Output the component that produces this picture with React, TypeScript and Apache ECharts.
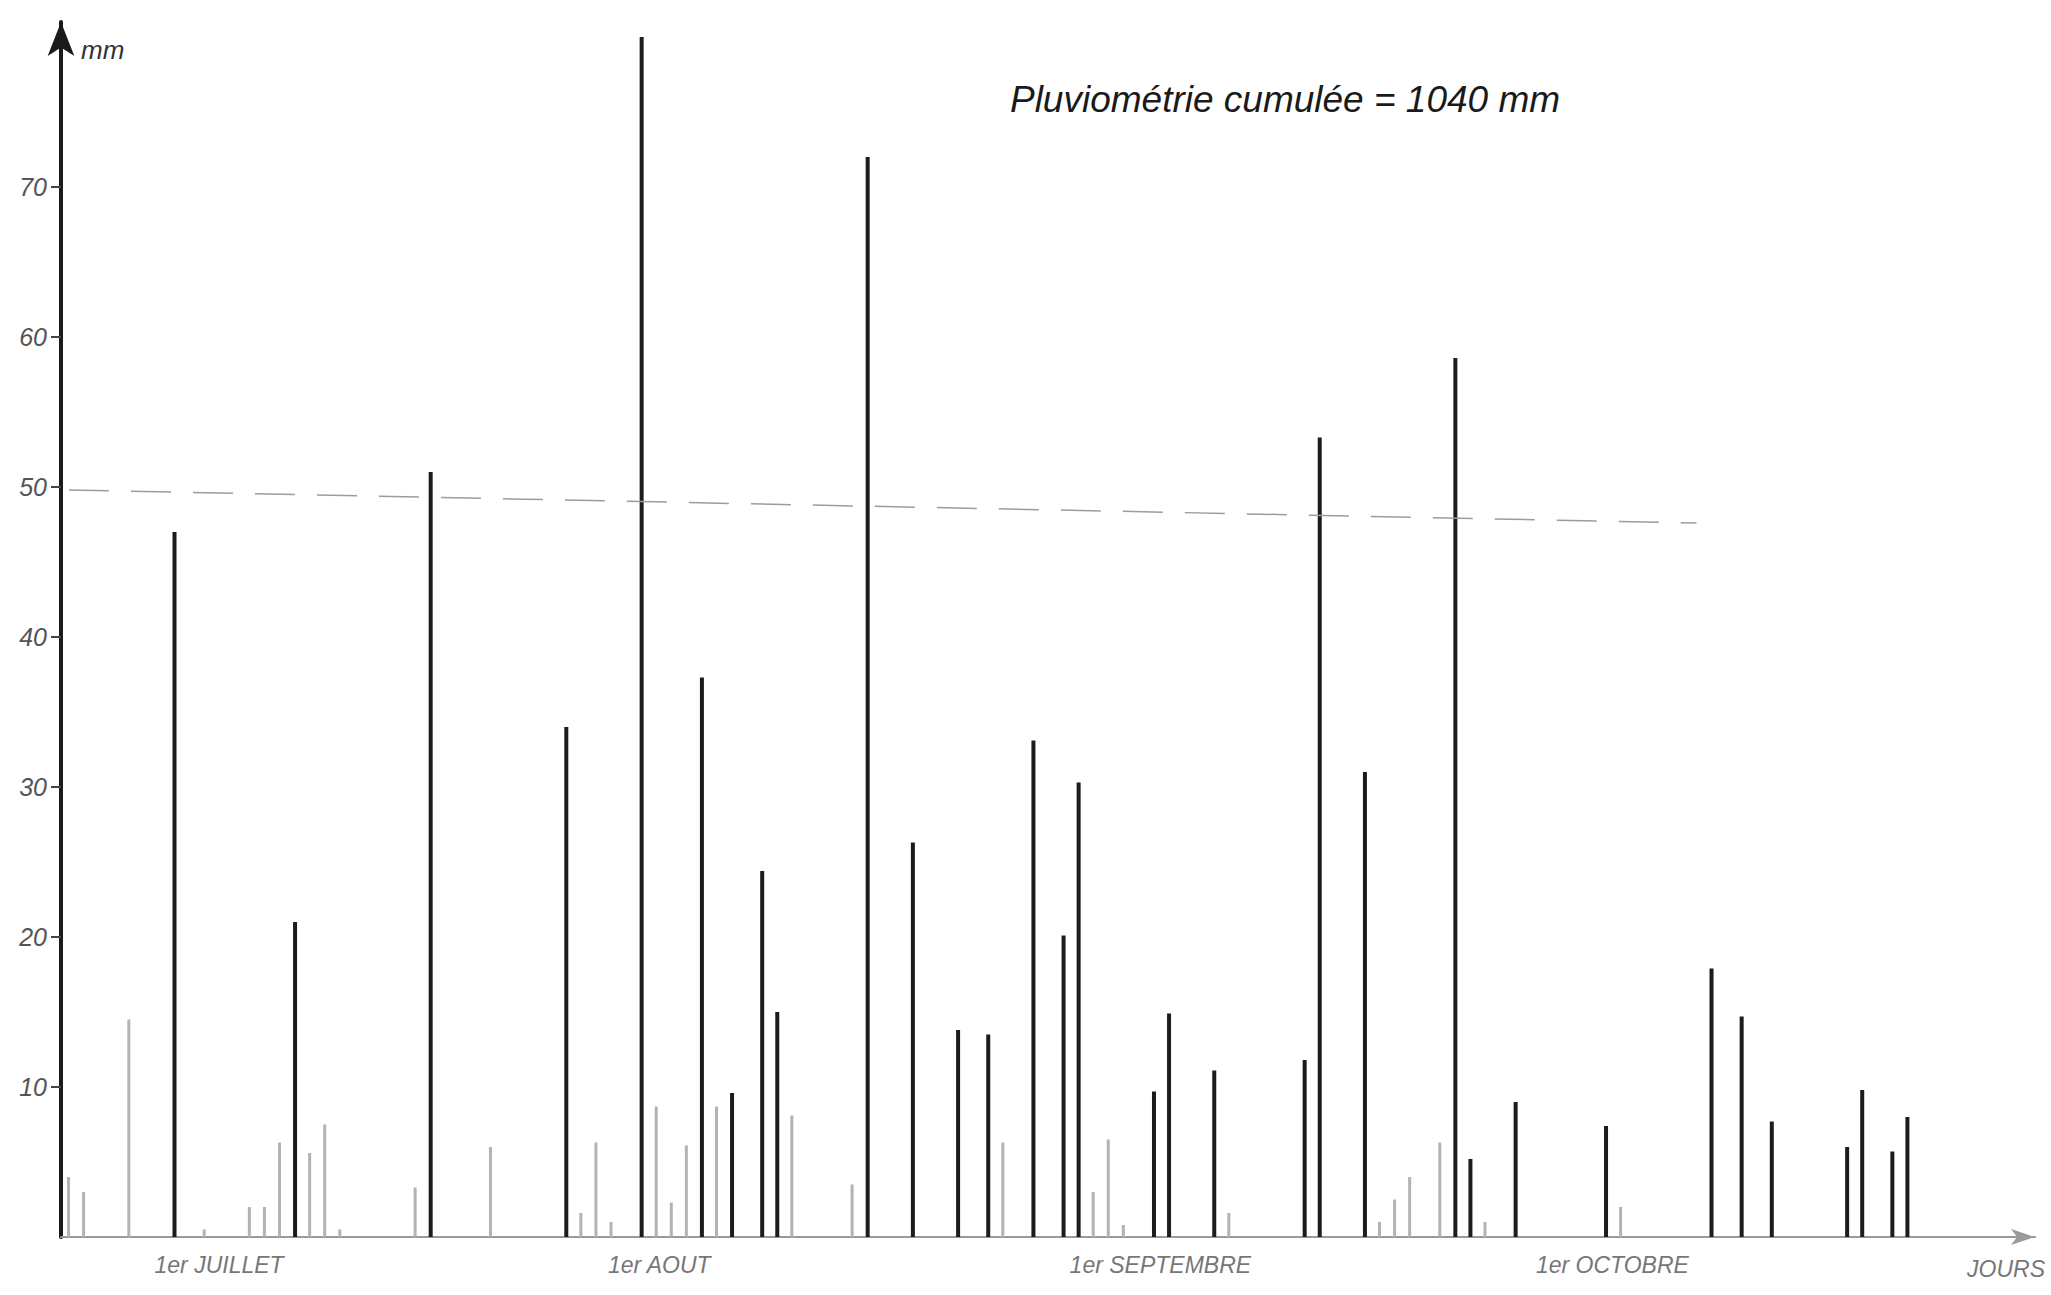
import React, { useEffect, useRef } from "react";
import * as echarts from "echarts";

// ---- calendar (one category per day, from 23 June to 31 October) ----
const MONTHS = ["JUIN", "JUILLET", "AOUT", "SEPTEMBRE", "OCTOBRE"];
const MONTH_LENGTHS = [30, 31, 31, 30, 31];
const FIRST_DAY = 23;

function buildDays(): string[] {
  const out: string[] = [];
  MONTHS.forEach((m, i) => {
    const start = i === 0 ? FIRST_DAY : 1;
    for (let d = start; d <= MONTH_LENGTHS[i]; d++) out.push(`${d} ${m}`);
  });
  return out;
}
const DAYS = buildDays();

// ---- daily rainfall (mm), clearly inked strokes ----
const RAIN_DARK: [string, number][] = [
  ["30 JUIN", 47],
  ["8 JUILLET", 21],
  ["17 JUILLET", 51],
  ["26 JUILLET", 34],
  ["31 JUILLET", 80],
  ["4 AOUT", 37.3],
  ["6 AOUT", 9.6],
  ["8 AOUT", 24.4],
  ["9 AOUT", 15],
  ["15 AOUT", 72],
  ["18 AOUT", 26.3],
  ["21 AOUT", 13.8],
  ["23 AOUT", 13.5],
  ["26 AOUT", 33.1],
  ["28 AOUT", 20.1],
  ["29 AOUT", 30.3],
  ["3 SEPTEMBRE", 9.7],
  ["4 SEPTEMBRE", 14.9],
  ["7 SEPTEMBRE", 11.1],
  ["13 SEPTEMBRE", 11.8],
  ["14 SEPTEMBRE", 53.3],
  ["17 SEPTEMBRE", 31],
  ["23 SEPTEMBRE", 58.6],
  ["24 SEPTEMBRE", 5.2],
  ["27 SEPTEMBRE", 9],
  ["3 OCTOBRE", 7.4],
  ["10 OCTOBRE", 17.9],
  ["12 OCTOBRE", 14.7],
  ["14 OCTOBRE", 7.7],
  ["19 OCTOBRE", 6],
  ["20 OCTOBRE", 9.8],
  ["22 OCTOBRE", 5.7],
  ["23 OCTOBRE", 8],
];

// ---- daily rainfall (mm), faint strokes ----
const RAIN_FAINT: [string, number][] = [
  ["23 JUIN", 4],
  ["24 JUIN", 3],
  ["27 JUIN", 14.5],
  ["2 JUILLET", 0.5],
  ["5 JUILLET", 2],
  ["6 JUILLET", 2],
  ["7 JUILLET", 6.3],
  ["9 JUILLET", 5.6],
  ["10 JUILLET", 7.5],
  ["11 JUILLET", 0.5],
  ["16 JUILLET", 3.3],
  ["21 JUILLET", 6],
  ["27 JUILLET", 1.6],
  ["28 JUILLET", 6.3],
  ["29 JUILLET", 1],
  ["1 AOUT", 8.7],
  ["2 AOUT", 2.3],
  ["3 AOUT", 6.1],
  ["5 AOUT", 8.7],
  ["10 AOUT", 8.1],
  ["14 AOUT", 3.5],
  ["24 AOUT", 6.3],
  ["30 AOUT", 3],
  ["31 AOUT", 6.5],
  ["1 SEPTEMBRE", 0.8],
  ["8 SEPTEMBRE", 1.6],
  ["18 SEPTEMBRE", 1],
  ["19 SEPTEMBRE", 2.5],
  ["20 SEPTEMBRE", 4],
  ["22 SEPTEMBRE", 6.3],
  ["25 SEPTEMBRE", 1],
  ["4 OCTOBRE", 2],
];

// ---- dashed reference line (mm) ----
const REF_LINE: [string, number][] = [
  ["23 JUIN", 49.8],
  ["9 OCTOBRE", 47.6],
];

const Y_TICKS = [10, 20, 30, 40, 50, 60, 70];
const TITLE = "Pluviométrie cumulée = 1040 mm";

const FONT = "Liberation Sans";
const MONTH_KEY: Record<string, string> = { JUILLET: "j", AOUT: "a", SEPTEMBRE: "s", OCTOBRE: "o" };

export default function App() {
  const ref = useRef<HTMLDivElement>(null);

  useEffect(() => {
    if (!ref.current) return;
    const chart = echarts.init(ref.current, undefined, { renderer: "svg" });
    const monthStyle = (pad: number) => ({
      fontFamily: FONT,
      fontSize: 23,
      fontStyle: "italic",
      color: "#777",
      padding: [0, 0, 0, pad],
    });

    chart.setOption({
      animation: false,
      backgroundColor: "#ffffff",
      title: {
        text: TITLE,
        left: 1280,
        top: 76,
        textAlign: "center",
        textStyle: {
          fontFamily: FONT,
          fontStyle: "italic",
          fontWeight: "normal",
          fontSize: 37,
          color: "#1a1a1a",
        },
      },
      grid: { left: 61, right: 16, top: 22, bottom: 58, containLabel: false },
      xAxis: {
        type: "category",
        data: DAYS,
        boundaryGap: true,
        name: "JOURS",
        nameLocation: "end",
        nameGap: 10,
        nameTextStyle: {
          fontFamily: FONT,
          fontSize: 23,
          fontStyle: "italic",
          color: "#777",
          align: "right",
          verticalAlign: "top",
          padding: [20, 0, 0, 0],
        },
        axisLine: {
          show: true,
          symbol: ["none", "arrow"],
          symbolSize: [12, 24],
          lineStyle: { color: "#9a9a9a", width: 2 },
        },
        axisTick: { show: false },
        splitLine: { show: false },
        axisLabel: {
          interval: (_i: number, v: string) => v.startsWith("1 "),
          margin: 16,
          formatter: (v: string) => {
            const parts = v.split(" ");
            if (parts[0] !== "1") return "";
            const k = MONTH_KEY[parts[1]];
            return k ? `{${k}|1er ${parts[1]}}` : "";
          },
          rich: {
            j: monthStyle(60),
            a: monthStyle(6),
            s: monthStyle(74),
            o: monthStyle(74),
          },
        },
      },
      yAxis: {
        type: "value",
        min: 0,
        max: 81,
        interval: 10,
        name: "mm",
        nameLocation: "end",
        nameGap: -28,
        nameTextStyle: {
          fontFamily: FONT,
          fontSize: 26,
          fontStyle: "italic",
          color: "#333",
          align: "left",
          verticalAlign: "middle",
          padding: [0, 0, 0, 20],
        },
        axisLine: {
          show: true,
          symbol: ["none", "arrow"],
          symbolSize: [20, 34],
          lineStyle: { color: "#1a1a1a", width: 4 },
        },
        axisTick: {
          show: true,
          inside: false,
          length: 10,
          customValues: Y_TICKS,
          lineStyle: { color: "#444", width: 2 },
        },
        axisLabel: {
          customValues: Y_TICKS,
          margin: 14,
          fontFamily: FONT,
          fontSize: 25,
          fontStyle: "italic",
          color: "#555",
        },
        splitLine: { show: false },
      },
      series: [
        {
          type: "bar",
          name: "Pluie (trait net)",
          data: RAIN_DARK,
          barWidth: 4,
          barGap: "-100%",
          itemStyle: { color: "#1c1c1c" },
          markLine: {
            silent: true,
            symbol: "none",
            label: { show: false },
            lineStyle: { color: "#9c9c9c", width: 1.5, type: [40, 22] },
            data: [[{ coord: REF_LINE[0] }, { coord: REF_LINE[1] }]],
          },
        },
        {
          type: "bar",
          name: "Pluie (trait pâle)",
          data: RAIN_FAINT,
          barWidth: 3,
          barGap: "-100%",
          itemStyle: { color: "#b3b3b3" },
        },
      ],
    });

    return () => chart.dispose();
  }, []);

  return (
    <div
      ref={ref}
      style={{ position: "fixed", left: 0, top: 0, width: "2051px", height: "1295px", background: "#fff" }}
    />
  );
}
